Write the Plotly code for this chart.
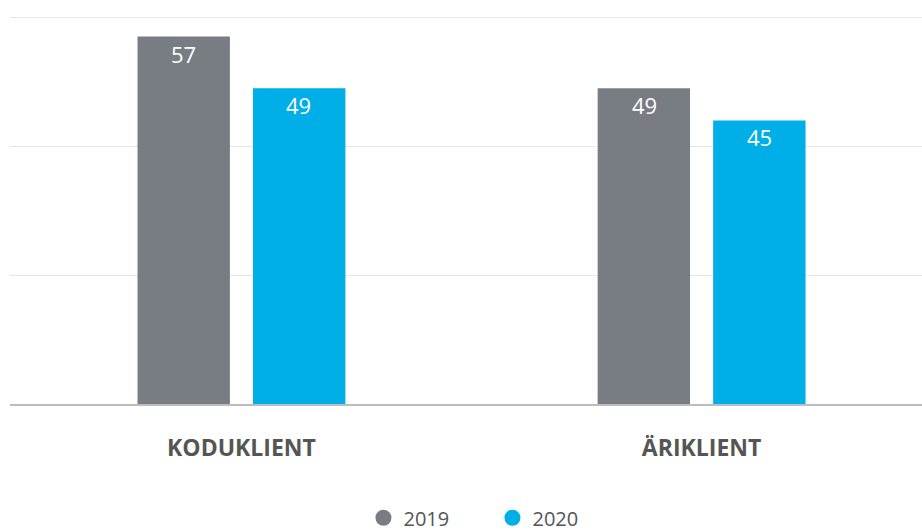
import plotly.graph_objects as go

categories = ["KODUKLIENT", "ÄRIKLIENT"]
series_names = ["2019", "2020"]
values_2019 = [57, 49]
values_2020 = [49, 44]
labels_2019 = ["57", "49"]
labels_2020 = ["49", "45"]

colors = {"2019": "#787d83", "2020": "#00aee8"}
font_family = "Open Sans, Segoe UI, sans-serif"

fig = go.Figure()

series = [
    ("2019", values_2019, labels_2019, -57.5),
    ("2020", values_2020, labels_2020, 57.5),
]

for name, vals, labels, shift in series:
    fig.add_trace(go.Bar(
        x=categories, y=vals, name=name,
        marker=dict(color=colors[name], line=dict(width=0)),
        showlegend=False, hoverinfo="skip",
    ))
    # value labels inside the top of each bar
    for cat, v, lab in zip(categories, vals, labels):
        fig.add_annotation(
            x=cat, y=v, text=lab, showarrow=False,
            xshift=shift, yshift=0, yanchor="top",
            font=dict(color="white", size=22, family=font_family),
        )
    # legend entry with round marker
    fig.add_trace(go.Scatter(
        x=[None], y=[None], mode="markers", name=name,
        marker=dict(color=colors[name], size=20, symbol="circle"),
    ))

fig.update_layout(
    width=922, height=531,
    margin=dict(l=10, r=0, t=16, b=127, autoexpand=False),
    paper_bgcolor="white", plot_bgcolor="white",
    barmode="group", bargap=0.498, bargroupgap=0.2,
    font=dict(family=font_family, color="#555555"),
    legend=dict(
        orientation="h", x=0.529, xanchor="center",
        yref="container", y=0.025, yanchor="middle",
        font=dict(size=20, color="#555555"),
        itemsizing="trace", entrywidth=84,
    ),
    xaxis=dict(
        range=[-0.503, 1.479], showgrid=False, automargin=False,
        showline=True, linecolor="#bdbdbd", linewidth=1.5,
        ticks="", ticklabelstandoff=23,
        tickfont=dict(size=23, color="#555555", family="Open Sans, sans-serif", weight="bold"),
    ),
    yaxis=dict(
        range=[0, 60.2], tickvals=[20, 40, 60], showticklabels=False,
        automargin=False,
        gridcolor="#e6e6e6", gridwidth=1.2, zeroline=False,
    ),
)

fig.write_html(
    "out.html",
    config={"displayModeBar": False},
    post_script="document.body.style.margin='0';document.body.style.overflow='hidden';",
)
